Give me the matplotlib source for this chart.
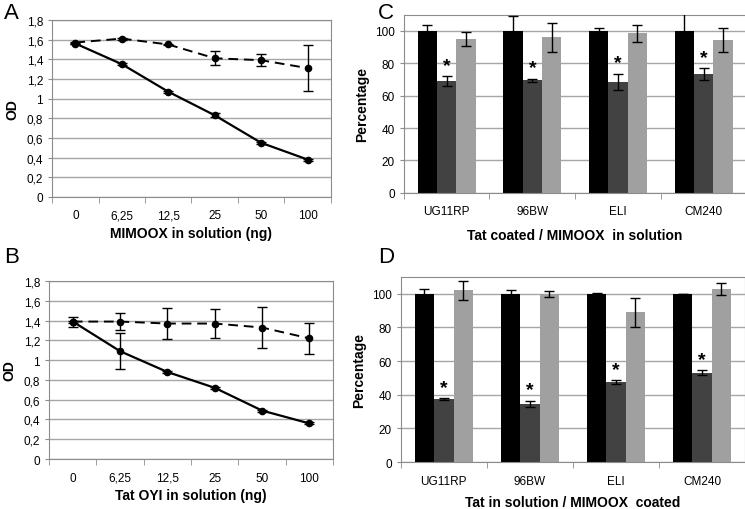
import numpy as np
import matplotlib.pyplot as plt

plt.rcParams['font.family'] = ['Liberation Sans', 'DejaVu Sans']

doses = ['0', '6,25', '12,5', '25', '50', '100']
strains = ['UG11RP', '96BW', 'ELI', 'CM240']

# panel A: MIMOOX in solution
a_dash = [1.57, 1.61, 1.55, 1.41, 1.39, 1.31]
a_dash_err = [0.01, 0.01, 0.01, 0.07, 0.06, 0.23]
a_solid = [1.56, 1.35, 1.07, 0.83, 0.55, 0.38]
a_solid_err = [0.01, 0.01, 0.01, 0.02, 0.01, 0.01]

# panel B: Tat OYI in solution
b_dash = [1.39, 1.39, 1.37, 1.37, 1.33, 1.22]
b_dash_err = [0.05, 0.09, 0.16, 0.15, 0.21, 0.16]
b_solid = [1.39, 1.09, 0.88, 0.72, 0.49, 0.36]
b_solid_err = [0.01, 0.18, 0.01, 0.01, 0.01, 0.01]

# panel C: Tat coated / MIMOOX in solution
c_black = [100, 100, 100, 100]
c_black_err = [4, 9, 2, 15]
c_dark = [69, 69.5, 68.5, 73.5]
c_dark_err = [3, 1, 5, 3.5]
c_light = [95, 96, 98.5, 94.5]
c_light_err = [4.5, 9, 5, 7.5]

# panel D: Tat in solution / MIMOOX coated
d_black = [100, 100, 100, 100]
d_black_err = [3, 2.5, 0.3, 0]
d_dark = [37.5, 34.5, 47.5, 53]
d_dark_err = [0.5, 2, 1, 1.5]
d_light = [102, 100, 89, 103]
d_light_err = [5.5, 1.8, 8.5, 3.5]

GRID = '#a6a6a6'
FRAME = '#8c8c8c'


def style_axes(ax, n, ymax):
    ax.set_xlim(-0.5, n - 0.5)
    ax.set_ylim(0, ymax)
    ax.set_xticks(np.arange(n))
    ax.set_xticks(np.arange(n + 1) - 0.5, minor=True)
    ax.tick_params(axis='x', which='major', length=0, pad=9, labelsize=8.5)
    ax.tick_params(axis='x', which='minor', length=4, color=FRAME, direction='out')
    ax.tick_params(axis='y', length=3, color=FRAME, labelsize=8.5)
    ax.yaxis.grid(True, color=GRID, linewidth=1)
    ax.set_axisbelow(True)
    for s in ax.spines.values():
        s.set_color(FRAME)


def line_panel(ax, dash, dash_err, solid, solid_err, xlabel):
    x = np.arange(len(doses))
    ax.errorbar(x, dash, yerr=dash_err, color='black', linestyle='--', dashes=(5, 3),
                linewidth=1.4, marker='o', markersize=4.5, capsize=3.5, elinewidth=1,
                capthick=1)
    ax.errorbar(x, solid, yerr=solid_err, color='black', linestyle='-',
                linewidth=1.6, marker='o', markersize=4.5, capsize=3.5, elinewidth=1,
                capthick=1)
    style_axes(ax, len(doses), 1.8)
    ax.set_xticklabels(doses)
    ticks = np.arange(0, 1.81, 0.2)
    ax.set_yticks(ticks)
    ax.set_yticklabels(['0', '0,2', '0,4', '0,6', '0,8', '1', '1,2', '1,4', '1,6', '1,8'])
    ax.set_ylabel('OD', fontsize=10, fontweight='bold', labelpad=5)
    ax.set_xlabel(xlabel, fontsize=10, fontweight='bold', labelpad=3)


def bar_panel(ax, vals, errs, xlabel, xpad):
    x = np.arange(len(strains))
    w = 0.225
    colors = ['black', '#424242', '#a0a0a0']
    for i, (v, e, c) in enumerate(zip(vals, errs, colors)):
        ax.bar(x + (i - 1) * w, v, w, color=c, zorder=2)
        ax.errorbar(x + (i - 1) * w, v, yerr=e, fmt='none', ecolor='black',
                    elinewidth=1, capsize=3.5, capthick=1, zorder=3)
    dark, dark_err = vals[1], errs[1]
    for xi, v, e in zip(x, dark, dark_err):
        ax.text(xi, v + e + 1.5, '*', ha='center', va='bottom', fontsize=14,
                fontweight='bold')
    style_axes(ax, len(strains), 110)
    ax.set_xticklabels(strains)
    ax.set_yticks(np.arange(0, 101, 20))
    ax.set_ylabel('Percentage', fontsize=10, fontweight='bold', labelpad=4)
    ax.set_xlabel(xlabel, fontsize=10, fontweight='bold', labelpad=xpad)


fig = plt.figure(figsize=(7.45, 5.1), dpi=100)
ax_a = fig.add_axes([0.070, 0.612, 0.374, 0.347])
ax_b = fig.add_axes([0.066, 0.098, 0.381, 0.349])
ax_c = fig.add_axes([0.542, 0.620, 0.460, 0.349])
ax_d = fig.add_axes([0.538, 0.092, 0.462, 0.363])

line_panel(ax_a, a_dash, a_dash_err, a_solid, a_solid_err, 'MIMOOX in solution (ng)')
line_panel(ax_b, b_dash, b_dash_err, b_solid, b_solid_err, 'Tat OYI in solution (ng)')
bar_panel(ax_c, [c_black, c_dark, c_light], [c_black_err, c_dark_err, c_light_err],
          'Tat coated / MIMOOX  in solution', 8)
bar_panel(ax_d, [d_black, d_dark, d_light], [d_black_err, d_dark_err, d_light_err],
          'Tat in solution / MIMOOX  coated', 6)

for lab, (px, py) in zip('ACBD', [(0.005, 0.995), (0.507, 0.995), (0.005, 0.515), (0.507, 0.515)]):
    fig.text(px, py, lab, fontsize=16, ha='left', va='top')

fig.savefig('out.png', dpi=100)
